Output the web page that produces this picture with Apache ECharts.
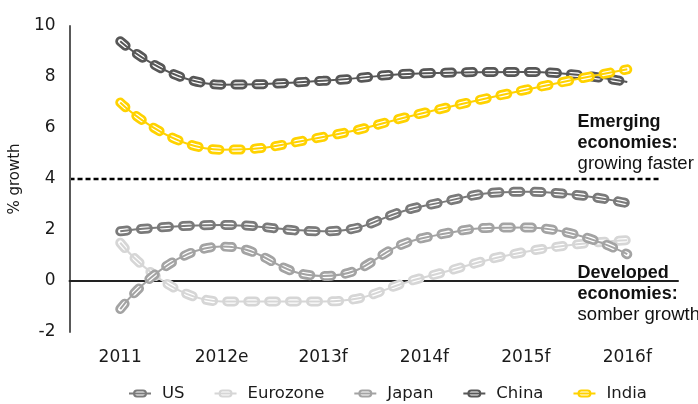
<!DOCTYPE html>
<html>
<head>
<meta charset="utf-8">
<script src="https://cdn.jsdelivr.net/npm/echarts@6/dist/echarts.min.js"></script>
<style>
html, body { margin: 0; padding: 0; background: #fff; }
#chart { width: 698px; height: 404px; }
</style>
</head>
<body>
<div id="chart"></div>
<script>
// chart values
const years = ['2011', '2012e', '2013f', '2014f', '2015f', '2016f'];
const usGrowth = [1.95, 2.2, 1.95, 2.95, 3.5, 3.05];
const eurozoneGrowth = [1.5, -0.8, -0.8, 0.15, 1.15, 1.6];
const japanGrowth = [-1.1, 1.35, 0.2, 1.7, 2.1, 1.05];
const chinaGrowth = [9.4, 7.7, 7.85, 8.15, 8.2, 7.8];
const indiaGrowth = [7.0, 5.15, 5.65, 6.6, 7.5, 8.3];
const yTicks = [-2, 0, 2, 4, 6, 8, 10];
const threshold = 4;
const emergingNote = ['Emerging', 'economies:', 'growing faster'];
const developedNote = ['Developed', 'economies:', 'somber growth'];

const countries = [
    { name: 'US', data: usGrowth, color: '#7a7a7a' },
    { name: 'Eurozone', data: eurozoneGrowth, color: '#d6d6d6' },
    { name: 'Japan', data: japanGrowth, color: '#a3a3a3' },
    { name: 'China', data: chinaGrowth, color: '#575757' },
    { name: 'India', data: indiaGrowth, color: '#ffd200' }
];

// oval link with a bar through it, used as legend icon
const linkIcon = 'path://M8 0 H14 A4 4 0 0 1 14 8 H8 A4 4 0 0 1 8 0 Z ' +
    'M8 2 A2 2 0 0 0 8 6 H14 A2 2 0 0 0 14 2 Z M0 3 H22 V5 H0 Z';

// a chain = thick dashed outline + white dashed hole + thin wire on top
function chainSeries(c) {
    let base = { type: 'line', data: c.data, smooth: true, symbol: 'none', silent: true };
    return [
        Object.assign({}, base, {
            name: c.name,
            itemStyle: { color: c.color },
            lineStyle: { color: c.color, width: 10, type: [7, 14], cap: 'round' }
        }),
        Object.assign({}, base, {
            name: c.name + ' hole',
            lineStyle: { color: '#fff', width: 4.5, type: [7, 14], cap: 'round' }
        }),
        Object.assign({}, base, {
            name: c.name + ' wire',
            lineStyle: { color: c.color, width: 2 }
        })
    ];
}

let series = [];
countries.forEach(function (c) {
    series = series.concat(chainSeries(c));
});

let chart = echarts.init(document.getElementById('chart'), null, { renderer: 'canvas' });
let option = {
    animation: false,
    backgroundColor: '#fff',
    grid: { left: 66, right: 20, top: 26, bottom: 72 },
    legend: {
        data: countries.map(function (c) { return c.name; }),
        left: 124,
        top: 380,
        icon: linkIcon,
        itemWidth: 22,
        itemHeight: 8,
        itemGap: 30,
        itemStyle: { borderWidth: 0 },
        textStyle: { fontFamily: 'DejaVu Sans', fontSize: 16.5, color: '#1a1a1a', padding: [0, 0, 0, 6] }
    },
    xAxis: {
        type: 'category',
        data: years,
        boundaryGap: true,
        axisTick: { show: false },
        axisLine: { lineStyle: { color: '#222', width: 2 } },
        axisLabel: { fontFamily: 'DejaVu Sans', fontSize: 17, color: '#1a1a1a', margin: 17 }
    },
    yAxis: {
        type: 'value',
        min: yTicks[0],
        max: yTicks[yTicks.length - 1],
        interval: yTicks[1] - yTicks[0],
        name: '% growth',
        nameLocation: 'middle',
        nameGap: 40,
        nameTextStyle: { fontFamily: 'DejaVu Sans', fontSize: 15, color: '#1a1a1a' },
        splitLine: { show: false },
        axisTick: { show: false },
        axisLine: { show: true, lineStyle: { color: '#595959', width: 2 } },
        axisLabel: { fontFamily: 'DejaVu Sans', fontSize: 17, color: '#1a1a1a', margin: 14 }
    },
    series: series
};
chart.setOption(option);

// threshold line and notes placed through the axes' scales
let yLine = chart.convertToPixel({ yAxisIndex: 0 }, threshold);
let xFirst = chart.convertToPixel({ xAxisIndex: 0 }, years[0]);
let xLast = chart.convertToPixel({ xAxisIndex: 0 }, years[years.length - 1]);
let band = (xLast - xFirst) / (years.length - 1);
let noteX = xLast - band * 0.49;

function noteTexts(lines, value) {
    let yMid = chart.convertToPixel({ yAxisIndex: 0 }, value);
    return lines.map(function (t, i) {
        return {
            type: 'text',
            x: noteX,
            y: yMid + (i - 1) * 21,
            style: {
                text: t,
                fill: '#111',
                font: (i < 2 ? 'bold 18px' : '18.5px') + ' "Liberation Sans"',
                verticalAlign: 'middle',
                align: 'left'
            }
        };
    });
}

chart.setOption({
    graphic: [{
        type: 'line',
        shape: { x1: xFirst - band / 2, y1: yLine, x2: xLast + band * 0.31, y2: yLine },
        style: { stroke: '#000', lineWidth: 2.5, lineDash: [5, 3] }
    }].concat(noteTexts(emergingNote, 5.42)).concat(noteTexts(developedNote, -0.5))
});
</script>
</body>
</html>
